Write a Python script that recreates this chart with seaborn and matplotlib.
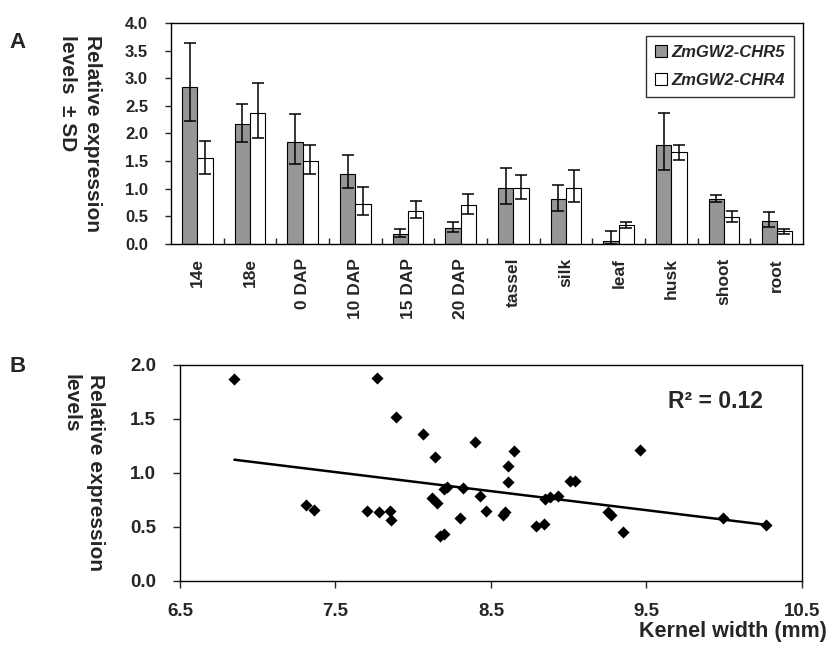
import numpy as np
import pandas as pd
import matplotlib
matplotlib.use("Agg")
import matplotlib.pyplot as plt
from matplotlib.patches import Patch
from matplotlib.ticker import FormatStrFormatter, MultipleLocator
import seaborn as sns

# Panel A: expression per tissue
tissues = ['14e', '18e', '0 DAP', '10 DAP', '15 DAP', '20 DAP',
           'tassel', 'silk', 'leaf', 'husk', 'shoot', 'root']
chr5_mean = [2.84, 2.17, 1.85, 1.27, 0.18, 0.29, 1.01, 0.81, 0.05, 1.79, 0.81, 0.42]
chr5_err_lo = [0.61, 0.33, 0.40, 0.26, 0.06, 0.08, 0.29, 0.22, 0.05, 0.45, 0.05, 0.11]
chr5_err_hi = [0.80, 0.37, 0.50, 0.34, 0.09, 0.11, 0.36, 0.25, 0.18, 0.58, 0.07, 0.16]
chr4_mean = [1.56, 2.37, 1.50, 0.72, 0.60, 0.70, 1.01, 1.01, 0.34, 1.66, 0.49, 0.23]
chr4_err_lo = [0.29, 0.45, 0.24, 0.20, 0.13, 0.16, 0.20, 0.25, 0.05, 0.14, 0.09, 0.05]
chr4_err_hi = [0.31, 0.54, 0.29, 0.31, 0.18, 0.20, 0.24, 0.33, 0.05, 0.14, 0.11, 0.05]
genes = ['ZmGW2-CHR5', 'ZmGW2-CHR4']

# Panel B: kernel width vs expression
kernel_width = [6.85, 7.77, 7.89, 8.06, 8.14, 8.40, 7.31, 7.36, 7.70, 7.78,
                7.85, 7.86, 8.12, 8.15, 8.20, 8.22, 8.32, 8.43, 8.47, 8.30,
                8.17, 8.20, 8.65, 8.61, 8.61, 8.58, 8.59, 8.79, 8.84, 8.85,
                8.88, 8.93, 9.01, 9.04, 9.25, 9.27, 9.35, 9.46, 9.99, 10.27]
rel_expr = [1.87, 1.88, 1.52, 1.36, 1.15, 1.29, 0.70, 0.66, 0.65, 0.64,
            0.65, 0.56, 0.77, 0.72, 0.855, 0.87, 0.865, 0.79, 0.645, 0.58,
            0.415, 0.435, 1.20, 1.065, 0.915, 0.61, 0.64, 0.505, 0.525, 0.755,
            0.775, 0.79, 0.93, 0.93, 0.64, 0.61, 0.45, 1.215, 0.58, 0.52]

sns.set_style("white")
plt.rcParams['font.family'] = ['Liberation Sans', 'DejaVu Sans']
plt.rcParams['font.weight'] = 'bold'
plt.rcParams['axes.linewidth'] = 1.0

fig = plt.figure(figsize=(8.34, 6.62), dpi=100)
axA = fig.add_axes([0.205, 0.6314, 0.758, 0.334])
axB = fig.add_axes([0.2158, 0.1224, 0.7458, 0.3263])

# ---- Panel A ----
df = pd.DataFrame({
    'tissue': tissues * 2,
    'value': chr5_mean + chr4_mean,
    'gene': [genes[0]] * len(tissues) + [genes[1]] * len(tissues),
})
colors = {genes[0]: '#969696', genes[1]: 'white'}
sns.barplot(data=df, x='tissue', y='value', hue='gene', order=tissues,
            hue_order=genes, palette=colors, width=0.58, errorbar=None,
            edgecolor='black', linewidth=0.8, legend=False, ax=axA)

errs = [(chr5_err_lo, chr5_err_hi), (chr4_err_lo, chr4_err_hi)]
for cont, (lo, hi), vals in zip(axA.containers, errs, [chr5_mean, chr4_mean]):
    xs = [p.get_x() + p.get_width() / 2 for p in cont.patches]
    axA.errorbar(xs, vals, yerr=[lo, hi], fmt='none', ecolor='black',
                 elinewidth=1.1, capsize=4, capthick=1.1)

axA.set_xlim(-0.5, len(tissues) - 0.5)
axA.set_ylim(0, 4.0)
axA.yaxis.set_major_locator(MultipleLocator(0.5))
axA.yaxis.set_major_formatter(FormatStrFormatter('%.1f'))
axA.tick_params(axis='y', direction='out', length=4.5, width=1, pad=12,
                labelsize=12, left=True)
axA.set_xticks(range(len(tissues)))
axA.set_xticklabels(tissues, rotation=90, fontsize=12.5, fontweight='bold')
axA.tick_params(axis='x', length=0, pad=10)
axA.set_xticks(np.arange(0.5, len(tissues) - 1, 1.0), minor=True)
axA.tick_params(axis='x', which='minor', direction='in', length=4.5, width=1,
                bottom=True)
axA.set_xlabel('')
axA.set_ylabel('Relative expression\nlevels  \u00b1 SD', rotation=270,
               fontsize=15, fontweight='bold', linespacing=1.35,
               multialignment='left', va='bottom')
axA.yaxis.set_label_coords(-0.178, 0.5)
for s in axA.spines.values():
    s.set_color('black')
    s.set_linewidth(1.0)

handles = [Patch(facecolor=colors[g], edgecolor='black', linewidth=0.8) for g in genes]
leg = axA.legend(handles, genes, loc='upper right', bbox_to_anchor=(0.986, 0.941),
                 borderaxespad=0, fancybox=False, frameon=True, edgecolor='black',
                 handlelength=0.7, handleheight=0.7, handletextpad=0.3,
                 labelspacing=0.75, borderpad=0.55,
                 prop={'style': 'italic', 'weight': 'bold', 'size': 12})
leg.get_frame().set_linewidth(1.0)

# ---- Panel B ----
dfB = pd.DataFrame({'width': kernel_width, 'expr': rel_expr})
sns.regplot(data=dfB, x='width', y='expr', ci=None, ax=axB, marker='D',
            scatter_kws={'s': 38, 'color': 'black', 'linewidths': 0, 'alpha': 1},
            line_kws={'color': 'black', 'linewidth': 1.8})
axB.set_xlim(6.5, 10.5)
axB.set_ylim(0, 2.0)
axB.set_xticks([6.5, 7.5, 8.5, 9.5, 10.5])
axB.yaxis.set_major_locator(MultipleLocator(0.5))
axB.yaxis.set_major_formatter(FormatStrFormatter('%.1f'))
axB.tick_params(axis='both', direction='out', length=5, width=1, labelsize=13.5,
                left=True, bottom=True)
axB.tick_params(axis='y', pad=12)
axB.tick_params(axis='x', pad=11)
for lab in axB.get_xticklabels() + axB.get_yticklabels():
    lab.set_fontweight('bold')
for lab in axA.get_yticklabels():
    lab.set_fontweight('bold')
axB.set_xlabel('')
axB.set_ylabel('Relative expression\nlevels', rotation=270, fontsize=15,
               fontweight='bold', linespacing=1.35,
               multialignment='left', va='bottom')
axB.yaxis.set_label_coords(-0.19, 0.5)
for s in axB.spines.values():
    s.set_color('black')
    s.set_linewidth(1.0)

axB.text(0.785, 0.83, 'R\u00b2 = 0.12', transform=axB.transAxes, fontsize=16.5,
         fontweight='bold', ha='left', va='center')

fig.text(827 / 834, 1 - 631 / 662, 'Kernel width (mm)', ha='right', va='center',
         fontsize=15.5, fontweight='bold')
fig.text(18 / 834, 1 - 43 / 662, 'A', ha='center', va='center', fontsize=16,
         fontweight='bold')
fig.text(18 / 834, 1 - 367 / 662, 'B', ha='center', va='center', fontsize=16,
         fontweight='bold')

fig.savefig('out.png', dpi=100)
